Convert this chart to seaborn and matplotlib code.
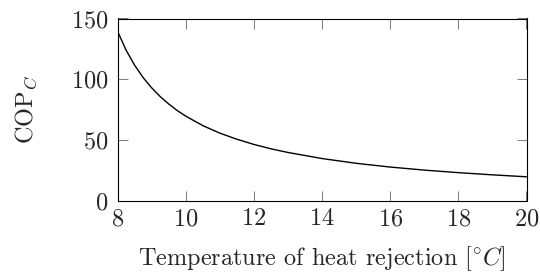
import numpy as np
import pandas as pd
import matplotlib
matplotlib.use("Agg")
import matplotlib.pyplot as plt
import seaborn as sns

# values
temp = [8.0, 8.25, 8.5, 8.75, 9.0, 9.25, 9.5, 9.75, 10.0, 10.5, 11.0, 11.5, 12.0,
        12.5, 13.0, 14.0, 15.0, 16.0, 17.0, 18.0, 19.0, 20.0]
cop = [139.6, 124.1, 111.7, 101.5, 93.1, 85.9, 79.8, 74.4, 69.8, 62.0, 55.8, 50.8,
       46.5, 42.9, 39.9, 34.9, 31.0, 27.9, 25.4, 23.3, 21.5, 19.9]
xticks = [8, 10, 12, 14, 16, 18, 20]
yticks = [0, 50, 100, 150]

df = pd.DataFrame({"T": temp, "COP": cop})

sns.set_style("ticks")
plt.rcParams["font.family"] = "serif"
plt.rcParams["font.serif"] = ["cmr10", "DejaVu Serif"]
plt.rcParams["mathtext.fontset"] = "cm"
plt.rcParams["axes.formatter.use_mathtext"] = True
plt.rcParams["axes.unicode_minus"] = False

fig = plt.figure(figsize=(5.4, 2.74), dpi=100)
ax = fig.add_axes([117.5 / 540, 1 - 201 / 274, (526.5 - 117.5) / 540, (201 - 18.5) / 274])

sns.lineplot(data=df, x="T", y="COP", ax=ax, color="black", linewidth=1.0)

ax.set_xlim(8, 20)
ax.set_ylim(0, 150)
ax.set_xticks(xticks)
ax.set_yticks(yticks)
ax.tick_params(direction="in", length=7, width=0.6, color="0.4",
               top=True, right=True, labelsize=17.5)
ax.tick_params(axis="x", pad=5)
ax.tick_params(axis="y", pad=6.8)
for s in ax.spines.values():
    s.set_linewidth(0.8)
    s.set_color("black")

ax.set_xlabel(r"Temperature of heat rejection $[^{\circ}C]$", fontsize=17.5, labelpad=10)
ax.set_ylabel(r"COP$_C$", fontsize=17.5, labelpad=23)

fig.savefig("out.png", dpi=100)
